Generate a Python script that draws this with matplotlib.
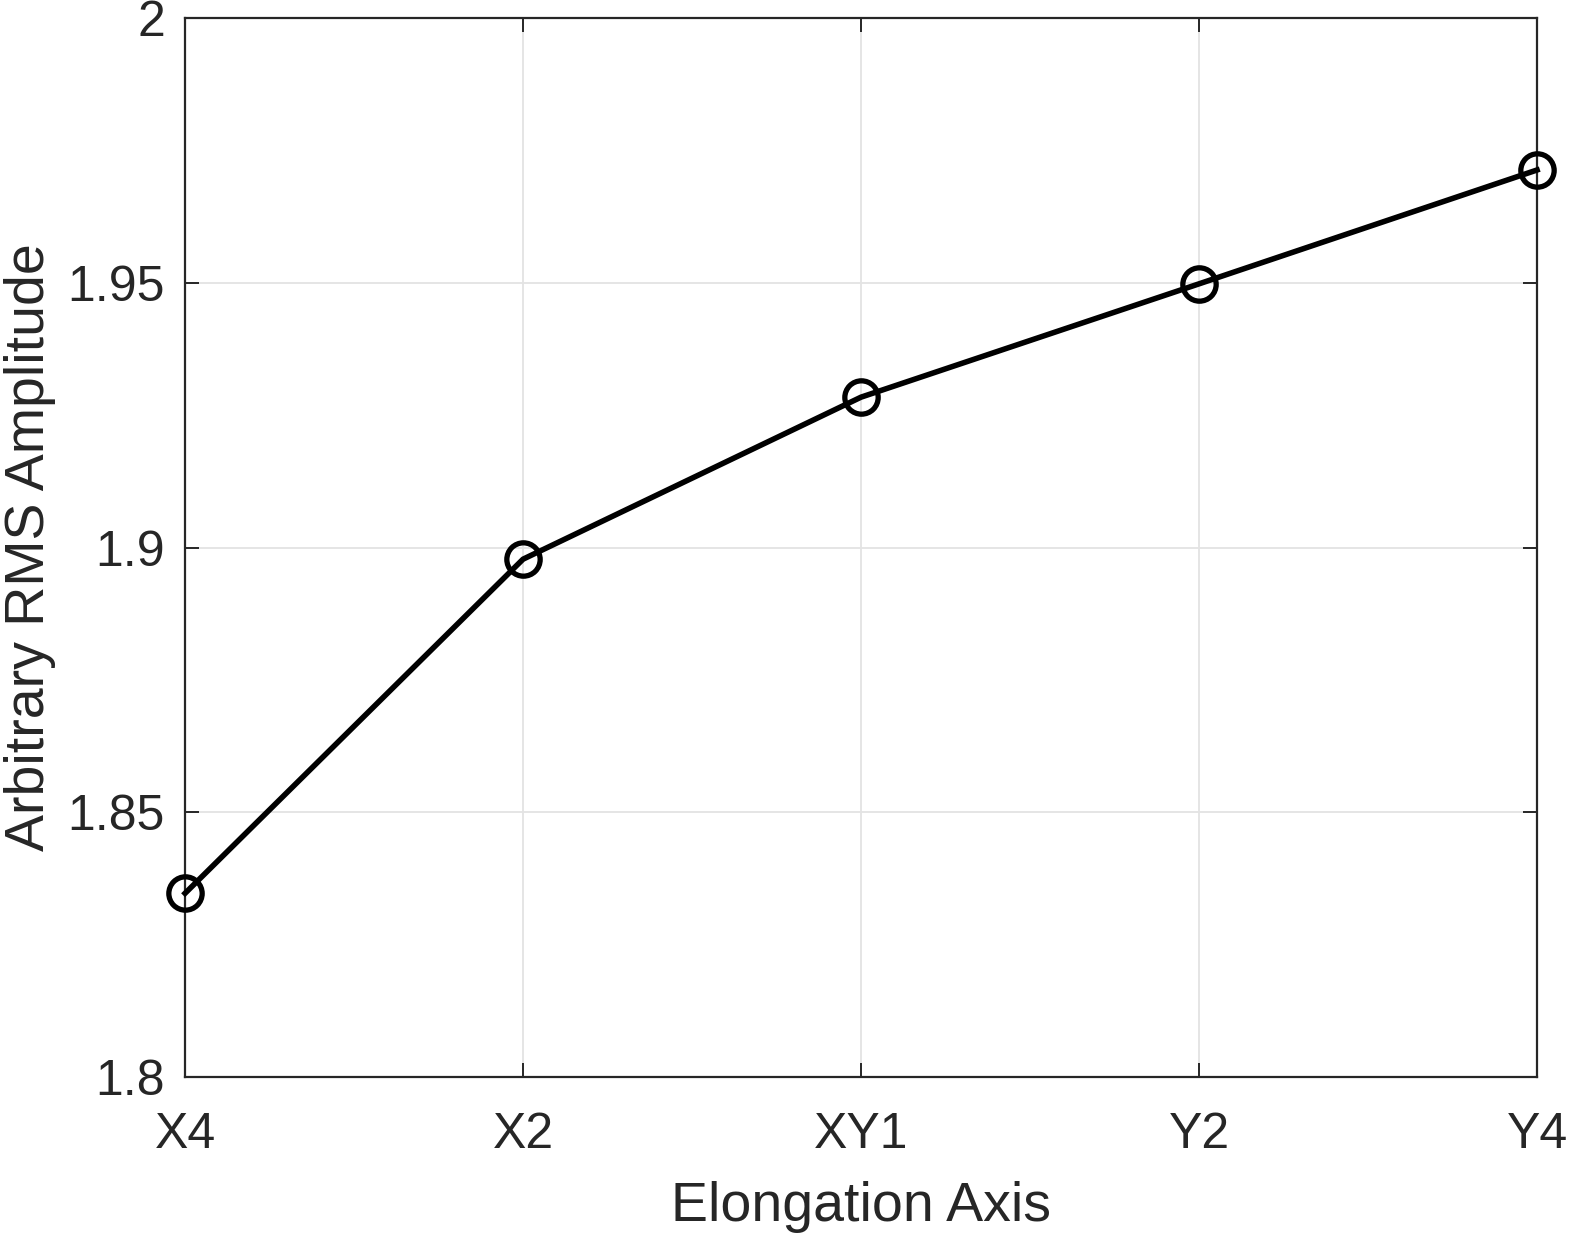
import matplotlib
matplotlib.use("Agg")
import matplotlib.pyplot as plt

# data
categories = ["X4", "X2", "XY1", "Y2", "Y4"]
rms_amp = [1.8347, 1.8978, 1.9284, 1.9498, 1.9713]
yticks = [1.8, 1.85, 1.9, 1.95, 2.0]
ytick_labels = ["1.8", "1.85", "1.9", "1.95", "2"]

plt.rcParams['font.family'] = ['Liberation Sans', 'DejaVu Sans']

fig = plt.figure(figsize=(15.71, 12.34), dpi=100)
ax = fig.add_axes([0.1178, 0.1272, 0.8606, 0.8582])

x = list(range(len(categories)))
ax.plot(x, rms_amp, color='black', linewidth=4, marker='o', markersize=24,
        markerfacecolor='none', markeredgecolor='black', markeredgewidth=3.8,
        clip_on=False, zorder=5)

ax.set_xlim(0, len(categories) - 1)
ax.set_ylim(1.8, 2.0)
ax.set_xticks(x)
ax.set_xticklabels(categories)
ax.set_yticks(yticks)
ax.set_yticklabels(ytick_labels)

ax.grid(True, color='#e3e3e3', linewidth=1.3)
ax.set_axisbelow(True)
for s in ax.spines.values():
    s.set_color('#262626')
    s.set_linewidth(1.6)
ax.tick_params(direction='in', length=10, width=1.4, colors='#262626',
               labelsize=36, top=True, right=True)
ax.tick_params(axis='x', pad=25)
ax.tick_params(axis='y', pad=14.5)

ax.set_xlabel("Elongation Axis", fontsize=40, color='#262626', labelpad=17)
ax.set_ylabel("Arbitrary RMS Amplitude", fontsize=40, color='#262626', labelpad=8)

fig.savefig("out.png", dpi=100)
